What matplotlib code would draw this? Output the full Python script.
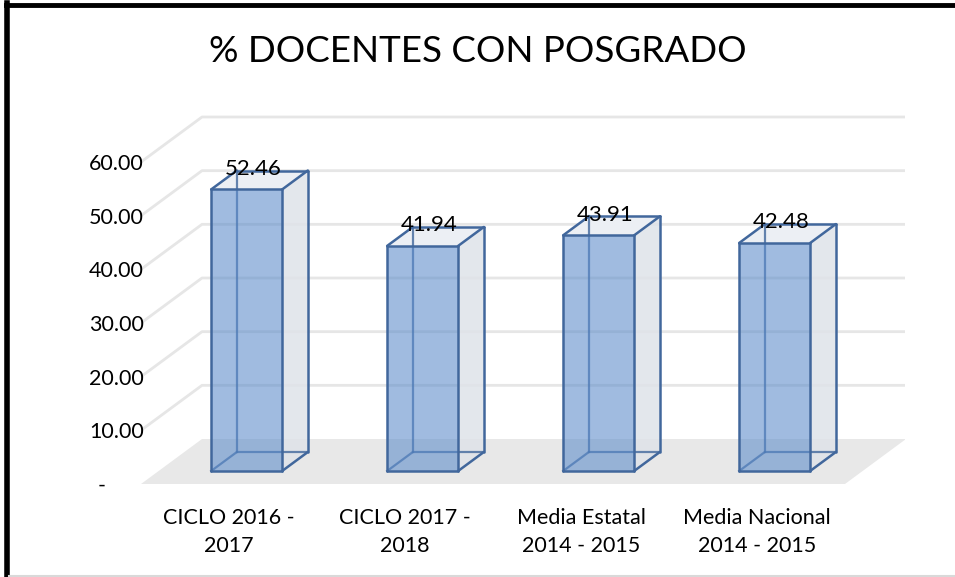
import matplotlib
matplotlib.use("Agg")
import matplotlib.pyplot as plt
from matplotlib.patches import Polygon
from matplotlib.lines import Line2D

# ---- data ----
categories = ["CICLO 2016 -\n2017", "CICLO 2017 -\n2018",
              "Media Estatal\n2014 - 2015", "Media Nacional\n2014 - 2015"]
values = [52.46, 41.94, 43.91, 42.48]
value_labels = ["52.46", "41.94", "43.91", "42.48"]
yticks = [0, 10, 20, 30, 40, 50, 60]
ytick_labels = ["-", "10.00", "20.00", "30.00", "40.00", "50.00", "60.00"]
title = "% DOCENTES CON POSGRADO"

FONT = ["Lato", "DejaVu Sans"]
plt.rcParams["font.family"] = FONT

W, H = 955, 577
fig = plt.figure(figsize=(W / 100, H / 100), dpi=100)

# axes in pixel geometry
x_left, x_right = 141, 905
y_zero, y_top = 484, 112
ppu = (484 - 162) / 60.0          # pixels per value unit
ppc = 176.0                        # pixels per category
ax = fig.add_axes([x_left / W, (H - y_zero) / H, (x_right - x_left) / W, (y_zero - y_top) / H])
ax.set_xlim(-0.5, -0.5 + (x_right - x_left) / ppc)
ax.set_ylim(0, (y_zero - y_top) / ppu)
for s in ax.spines.values():
    s.set_visible(False)

DX = 61 / ppc      # depth offset in category units
DY = 45 / ppu      # depth offset in value units
n = len(categories)
xmin, xmax = -0.5, n - 0.5

def P(x, y, d):
    return (x + d * DX, y + d * DY)

grid_c = "#e6e6e6"
# floor
floor = [P(xmin, 0, 0), P(xmax, 0, 0), P(xmax, 0, 1), P(xmin, 0, 1)]
ax.add_patch(Polygon(floor, closed=True, facecolor="#e8e8e8", edgecolor="none", zorder=1))
# gridlines on back wall and side wall
for v in yticks[1:]:
    a, b, c = P(xmin, v, 0), P(xmin, v, 1), P(xmax, v, 1)
    ax.add_line(Line2D([a[0], b[0], c[0]], [a[1], b[1], c[1]], color=grid_c, lw=2, zorder=1))

# bars
bw = 71 / ppc
d0, d1 = 0.29, 0.71
edge = "#41679c"
front_c = (0.357, 0.545, 0.792, 0.58)
for i, v in enumerate(values):
    xl, xr = i - bw / 2, i + bw / 2
    right_face = [P(xr, 0, d0), P(xr, 0, d1), P(xr, v, d1), P(xr, v, d0)]
    top_face = [P(xl, v, d0), P(xr, v, d0), P(xr, v, d1), P(xl, v, d1)]
    front_face = [P(xl, 0, d0), P(xr, 0, d0), P(xr, v, d0), P(xl, v, d0)]
    ax.add_patch(Polygon(right_face, closed=True, facecolor="#dfe3e9", edgecolor="none", alpha=0.85, zorder=3))
    ax.add_patch(Polygon(top_face, closed=True, facecolor="#eceff4", edgecolor="none", zorder=3))
    # hidden edges (back)
    for (p, q) in [((xl, 0, d1), (xr, 0, d1)), ((xl, 0, d1), (xl, v, d1)), ((xl, 0, d0), (xl, 0, d1))]:
        A, B = P(*p), P(*q)
        ax.add_line(Line2D([A[0], B[0]], [A[1], B[1]], color=edge, lw=1.6, alpha=0.8, zorder=4))
    ax.add_patch(Polygon(front_face, closed=True, facecolor=front_c, edgecolor="none", zorder=5))
    # visible edges
    edges = [((xl, 0, d0), (xr, 0, d0)), ((xr, 0, d0), (xr, v, d0)), ((xr, v, d0), (xl, v, d0)),
             ((xl, v, d0), (xl, 0, d0)), ((xl, v, d0), (xl, v, d1)), ((xl, v, d1), (xr, v, d1)),
             ((xr, v, d1), (xr, v, d0)), ((xr, v, d1), (xr, 0, d1)), ((xr, 0, d1), (xr, 0, d0))]
    for (p, q) in edges:
        A, B = P(*p), P(*q)
        ax.add_line(Line2D([A[0], B[0]], [A[1], B[1]], color=edge, lw=1.8, zorder=6,
                           solid_capstyle="round"))
    lx, ly = P(i, v, 0.5)
    ax.text(lx - 0.035, ly + 0.2, value_labels[i], ha="center", va="bottom", fontsize=16,
            color="#000000", zorder=7)

# ticks
ax.set_yticks(yticks)
ax.set_yticklabels(ytick_labels, fontsize=15.5)
ax.tick_params(axis="y", length=0, pad=-2)
ax.get_yticklabels()[0].set_x(-0.05)
ax.set_xticks(range(n))
ax.set_xticklabels(categories, fontsize=15.5, linespacing=1.55)
ax.tick_params(axis="x", length=0, pad=17)

fig.text(478 / W, 1 - 51 / H, title, ha="center", va="center", fontsize=26.5)

# chart border
fig.add_artist(Line2D([0.006, 1], [1 - 4.5 / H, 1 - 4.5 / H], color="black", lw=3.5, transform=fig.transFigure))
fig.add_artist(Line2D([6.5 / W, 6.5 / W], [0, 1 - 3 / H], color="black", lw=4, transform=fig.transFigure))
fig.add_artist(Line2D([9 / W, 1], [1.2 / H, 1.2 / H], color="#d9d9d9", lw=1.5, transform=fig.transFigure))

fig.savefig("out.png", dpi=100)
